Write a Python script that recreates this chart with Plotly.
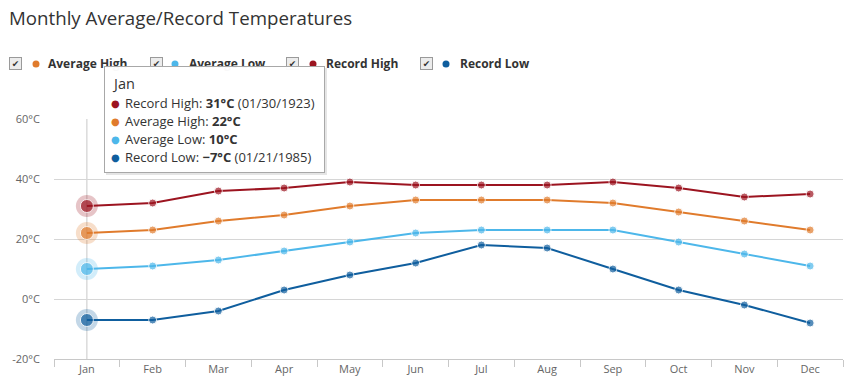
import plotly.graph_objects as go

# ---------------- data ----------------
months = ["Jan", "Feb", "Mar", "Apr", "May", "Jun", "Jul", "Aug", "Sep", "Oct", "Nov", "Dec"]
average_high = [22, 23, 26, 28, 31, 33, 33, 33, 32, 29, 26, 23]
average_low = [10, 11, 13, 16, 19, 22, 23, 23, 23, 19, 15, 11]
record_high = [31, 32, 36, 37, 39, 38, 38, 38, 39, 37, 34, 35]
record_low = [-7, -7, -4, 3, 8, 12, 18, 17, 10, 3, -2, -8]
record_high_dates = {"Jan": "01/30/1923"}
record_low_dates = {"Jan": "01/21/1985"}
y_ticks = [-20, 0, 20, 40, 60]
title_text = "Monthly Average/Record Temperatures"

series = [
    ("Average High", average_high, "#e07b2c"),
    ("Average Low", average_low, "#4db7ea"),
    ("Record High", record_high, "#9c1420"),
    ("Record Low", record_low, "#0f5e9e"),
]

W, H = 848, 386
L, R, T, B = 54, 843, 119, 359
FONT = "Open Sans"


def px(x):
    return (x - L) / (R - L)


def py(y):
    return (B - y) / (B - T)


def hexa(c, a):
    c = c.lstrip("#")
    return f"rgba({int(c[0:2],16)},{int(c[2:4],16)},{int(c[4:6],16)},{a})"


fig = go.Figure()

# halos for highlighted (hovered) month
for name, vals, col in series:
    fig.add_trace(go.Scatter(x=months[:1], y=vals[:1], mode="markers",
                             marker=dict(size=22, color=hexa(col, 0.25)),
                             showlegend=False, hoverinfo="skip"))

for name, vals, col in series:
    fig.add_trace(go.Scatter(
        x=months, y=vals, mode="lines+markers", name=name,
        line=dict(color=col, width=2),
        marker=dict(size=[13] + [8] * (len(months) - 1), color=col),
        showlegend=False, hoverinfo="skip"))

shapes = []
annotations = []

# crosshair at Jan
shapes.append(dict(type="line", xref="x", yref="paper", x0=months[0], x1=months[0],
                   y0=0, y1=1, line=dict(color="#c8c8c8", width=1), layer="below"))

# custom legend
legend_pos = [(15, 36, 46), (156, 175, 187), (292, 313, 324), (426, 446, 458)]
ly = 64
for (name, vals, col), (cx, dx, tx) in zip(series, legend_pos):
    annotations.append(dict(xref="paper", yref="paper", x=px(cx), y=py(ly),
                            xanchor="center", yanchor="middle", text="✔",
                            showarrow=False, font=dict(size=9, color="#333", family="DejaVu Sans"),
                            bgcolor="#ececec", bordercolor="#9a9a9a", borderwidth=1,
                            borderpad=0, width=11, height=11))
    shapes.append(dict(type="circle", xref="paper", yref="paper",
                       xsizemode="pixel", ysizemode="pixel",
                       xanchor=px(dx), yanchor=py(ly),
                       x0=-3.5, x1=3.5, y0=-3.5, y1=3.5,
                       fillcolor=col, line=dict(width=0)))
    annotations.append(dict(xref="paper", yref="paper", x=px(tx), y=py(ly),
                            xanchor="left", yanchor="middle", text=f"<b>{name}</b>",
                            showarrow=False, font=dict(size=12, color="#333", family=FONT)))

# tooltip box (shadow + box)
bx0, bx1, by0, by1 = 104, 325, 66, 173
annotations.append(dict(xref="paper", yref="paper", x=px(bx0 + 2), y=py(by0 + 2),
                        xanchor="left", yanchor="top", text="", showarrow=False,
                        bgcolor="rgba(0,0,0,0.10)", borderwidth=0, borderpad=0,
                        width=bx1 - bx0, height=by1 - by0))
annotations.append(dict(xref="paper", yref="paper", x=px(bx0), y=py(by0),
                        xanchor="left", yanchor="top", text="", showarrow=False,
                        bgcolor="rgba(255,255,255,0.97)", bordercolor="#a8a8a8",
                        borderwidth=1, borderpad=0,
                        width=bx1 - bx0 - 2, height=by1 - by0 - 2))
annotations.append(dict(xref="paper", yref="paper", x=px(110), y=py(83),
                        xanchor="left", yanchor="middle", text=months[0],
                        showarrow=False, font=dict(size=14.5, color="#333", family=FONT)))


def fmt(v):
    return f"{v}".replace("-", "−") + "°C"


tip_rows = [
    ("Record High", record_high, "#9c1420", f" ({record_high_dates[months[0]]})"),
    ("Average High", average_high, "#e07b2c", ""),
    ("Average Low", average_low, "#4db7ea", ""),
    ("Record Low", record_low, "#0f5e9e", f" ({record_low_dates[months[0]]})"),
]
row_y = [103, 121, 139, 157]
for (name, vals, col, extra), yy in zip(tip_rows, row_y):
    annotations.append(dict(xref="paper", yref="paper", x=px(115), y=py(yy),
                            xanchor="center", yanchor="middle", text="●",
                            showarrow=False, font=dict(size=10, color=col, family="DejaVu Sans")))
    annotations.append(dict(xref="paper", yref="paper", x=px(123), y=py(yy),
                            xanchor="left", yanchor="middle",
                            text=f"{name}: <b>{fmt(vals[0])}</b>{extra}",
                            showarrow=False, font=dict(size=13, color="#333", family=FONT)))

fig.update_layout(
    width=W, height=H,
    margin=dict(l=L, r=W - R, t=T, b=H - B, pad=0),
    paper_bgcolor="white", plot_bgcolor="white",
    title=dict(text=title_text, x=9 / W, xanchor="left", xref="container",
               y=1 - 18 / H, yanchor="middle", yref="container",
               font=dict(size=18.7, color="#333", family=FONT)),
    font=dict(family=FONT, color="#666"),
    shapes=shapes, annotations=annotations,
    hovermode=False,
)
fig.update_xaxes(type="category", categoryorder="array", categoryarray=months,
                 range=[-0.5, len(months) - 0.5], showgrid=False, zeroline=False,
                 showline=True, linecolor="#c8c8c8", linewidth=1,
                 ticks="outside", tickson="boundaries", ticklen=7, tickcolor="#c8c8c8",
                 tickfont=dict(size=11, color="#666", family=FONT), fixedrange=True)
fig.update_yaxes(range=[-20, 60], tickvals=y_ticks, ticktext=[f"{v}°C" for v in y_ticks],
                 showgrid=True, gridcolor="#d6d6d6", gridwidth=1, zeroline=False,
                 showline=False, ticks="", ticklabelstandoff=13,
                 tickfont=dict(size=11, color="#666", family=FONT), fixedrange=True)

fig.write_html("out.html", config={"displayModeBar": False},
               post_script="document.body.style.margin='0';")
